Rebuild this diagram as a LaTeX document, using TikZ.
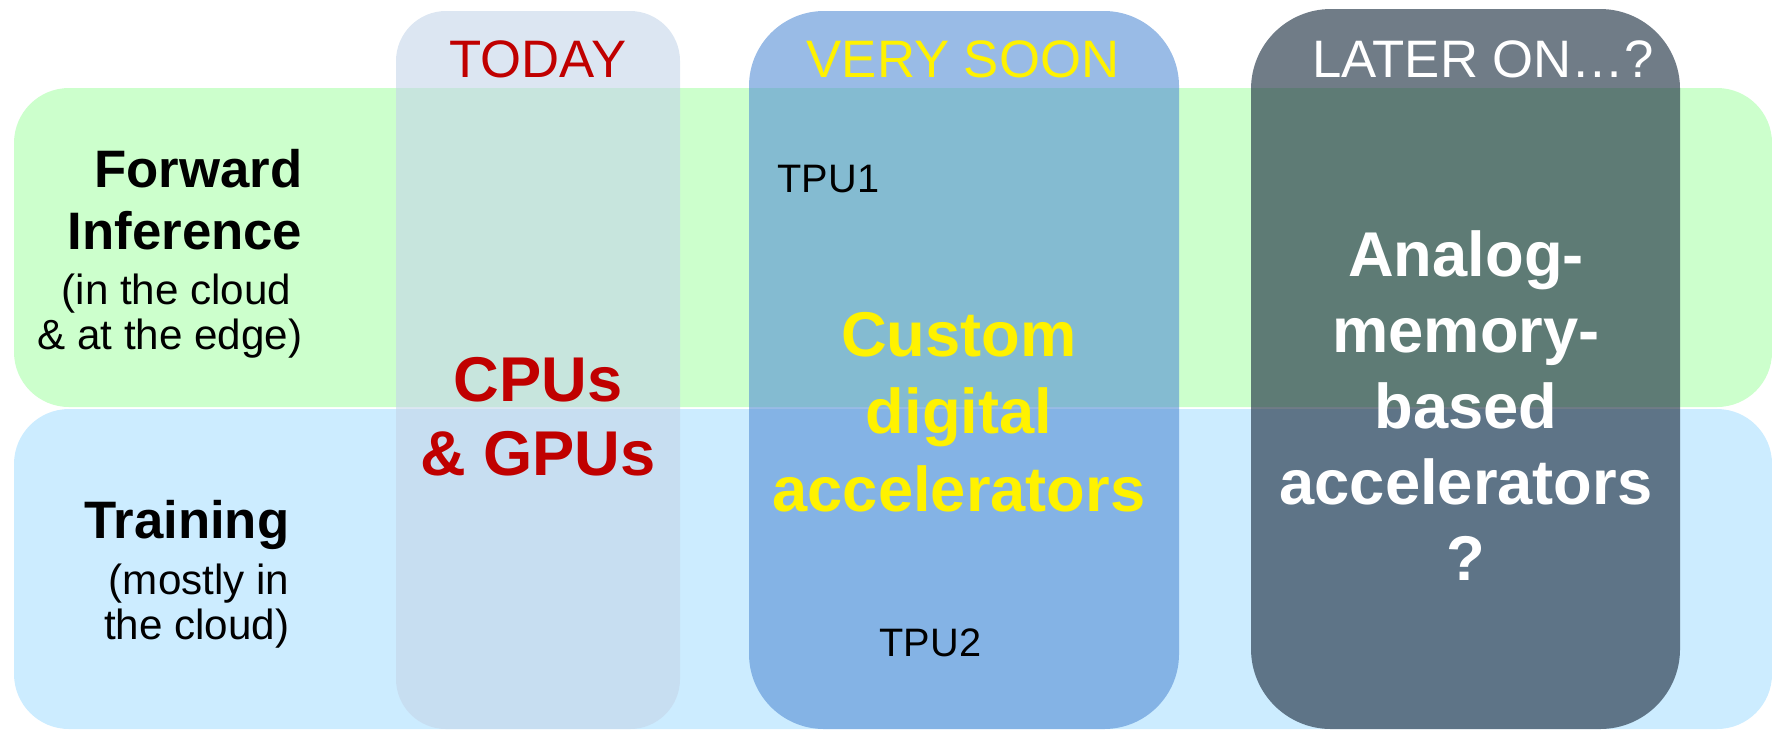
\documentclass[tikz,border=0pt]{standalone}
\usepackage{fontspec}
\setmainfont{Liberation Sans}
\definecolor{infergreen}{HTML}{CCFFCC}
\definecolor{trainblue}{HTML}{CCECFF}
\definecolor{todayblue}{HTML}{C5D5E9}
\definecolor{soonblue}{HTML}{558ED5}
\definecolor{laterslate}{HTML}{243547}
\definecolor{todayred}{HTML}{C00000}

\begin{document}
\begin{tikzpicture}[x=0.1mm,y=-0.1mm,
    every node/.style={inner sep=0pt},
    rowband/.style={rounded corners=5.5mm},
    colbox/.style={rounded corners=#1},
    header/.style={font=\fontsize{15}{18}\selectfont,anchor=base},
    rowlabel/.style={font=\bfseries\fontsize{15}{17.6}\selectfont,align=right,anchor=base east},
    rowsub/.style={font=\fontsize{12}{12.8}\selectfont,align=right,anchor=base east},
    bigtext/.style={font=\bfseries\fontsize{18}{#1}\selectfont,align=center,anchor=base},
    tpu/.style={font=\fontsize{11.3}{13}\selectfont,anchor=base west}]

    % fix the page size
    \useasboundingbox (0,0) rectangle (1772,729);

    % draw the two rows
    \fill[infergreen,rowband] (14,88) rectangle (1772,407);
    \fill[trainblue,rowband] (14,409) rectangle (1772,729);

    % draw the three columns
    \fill[todayblue,opacity=0.6,colbox=5mm] (396,11) rectangle (680,729);
    \fill[soonblue,opacity=0.6,colbox=7.5mm] (749,11) rectangle (1179,729);
    \fill[laterslate,opacity=0.65,colbox=8mm] (1251,9) rectangle (1680,729);

    % draw column headers
    \node[header,todayred] (today) at (538,77) {TODAY};
    \node[header,yellow] (soon) at (963,77) {VERY SOON};
    \node[header,white] (later) at (1483,77) {LATER ON…?};

    % draw row labels (base is the last line)
    \node[rowlabel] (fwd) at (303,249) {Forward\\Inference};
    \node[rowsub] (fwdsub) at (303,349) {(in the cloud\hspace*{3.1pt}\\\& at the edge)};
    \node[rowlabel] (train) at (290,538) {Training};
    \node[rowsub] (trainsub) at (290,639) {(mostly in\\the cloud)};

    % draw column contents
    \node[bigtext=21pt,todayred] (cpus) at (538,475) {CPUs\\\& GPUs};
    \node[bigtext=22pt,yellow] (custom) at (959,511) {Custom\\digital\\accelerators};
    \node[bigtext=21.6pt,white] (analog) at (1466,580) {Analog-\\memory-\\based\\accelerators\\?};
    \node[tpu] (tpu1) at (777,192) {TPU1};
    \node[tpu] (tpu2) at (879,656) {TPU2};
\end{tikzpicture}
\end{document}
